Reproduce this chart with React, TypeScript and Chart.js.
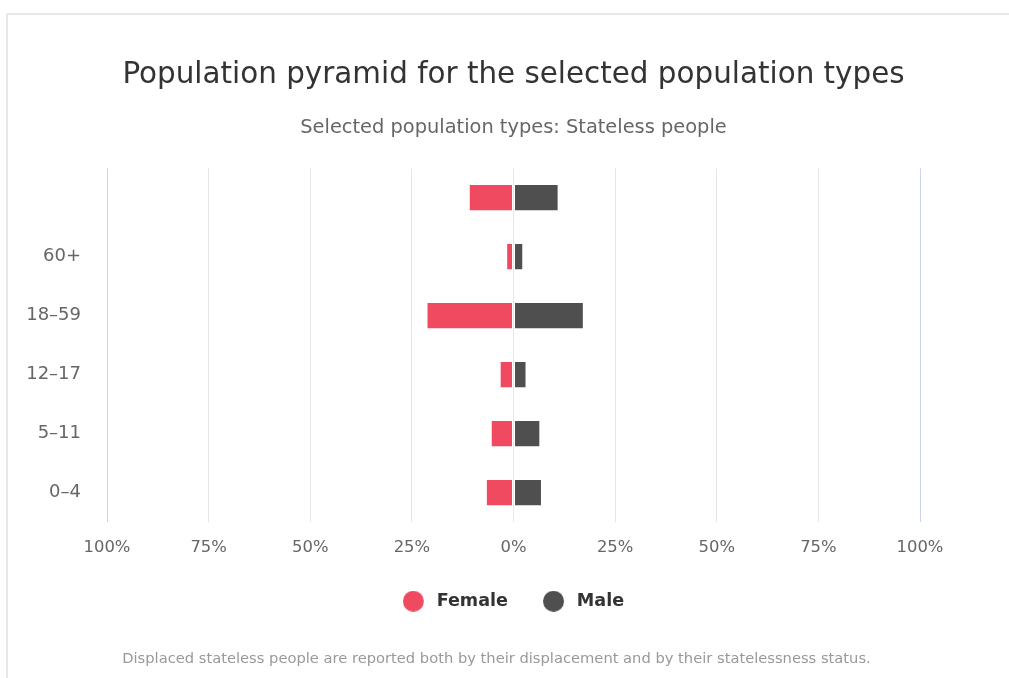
import React, { useEffect, useRef } from "react";
import { Chart, registerables } from "chart.js";

Chart.register(...registerables);

const categories = ["", "60+", "18–59", "12–17", "5–11", "0–4"];
const femaleValues = [-11.0, -1.8, -21.4, -3.4, -5.6, -6.8];
const maleValues = [11.1, 2.4, 17.3, 3.2, 6.6, 7.0];
const tickValues = [-100, -75, -50, -25, 0, 25, 50, 75, 100];

const FEMALE_COLOR = "#EF4A60";
const MALE_COLOR = "#4F4F4F";
const FONT = "'DejaVu Sans', sans-serif";
const CANVAS_W = 1027;
const CANVAS_H = 678;

function legendDot(color: string): HTMLCanvasElement {
  const c = document.createElement("canvas");
  c.width = 25;
  c.height = 21;
  const g = c.getContext("2d")!;
  g.fillStyle = color;
  g.beginPath();
  g.arc(10.5, 10.5, 10.5, 0, Math.PI * 2);
  g.fill();
  return c;
}

export default function App() {
  const ref = useRef<HTMLCanvasElement | null>(null);

  useEffect(() => {
    if (!ref.current) return;
    const chart = new Chart(ref.current, {
      type: "bar",
      data: {
        labels: categories,
        datasets: [
          {
            label: "Female",
            data: femaleValues,
            backgroundColor: FEMALE_COLOR,
            borderColor: "#ffffff",
            borderWidth: 1,
            borderSkipped: false,
            barPercentage: 0.464,
            categoryPercentage: 1,
            pointStyle: legendDot(FEMALE_COLOR),
          } as any,
          {
            label: "Male",
            data: maleValues,
            backgroundColor: MALE_COLOR,
            borderColor: "#ffffff",
            borderWidth: 1,
            borderSkipped: false,
            barPercentage: 0.464,
            categoryPercentage: 1,
            pointStyle: legendDot(MALE_COLOR),
          } as any,
        ],
      },
      options: {
        indexAxis: "y",
        animation: false,
        responsive: false,
        maintainAspectRatio: false,
        layout: { padding: { left: 0, right: 0, top: 0, bottom: 58 } },
        scales: {
          x: {
            stacked: true,
            min: -100,
            max: 100,
            afterBuildTicks: (scale: any) => {
              scale.ticks = tickValues.map((v) => ({ value: v }));
            },
            afterFit: (scale: any) => {
              scale.height = 35.25;
            },
            ticks: {
              callback: (v: any) => Math.abs(Number(v)) + "%",
              color: "#666666",
              font: { family: FONT, size: 16.4 },
              padding: 16,
              maxRotation: 0,
              autoSkip: false,
            },
            grid: {
              drawTicks: false,
              color: (ctx: any) =>
                ctx.tick && Math.abs(ctx.tick.value) === 100 ? "#ccd6eb" : "#e6e6e6",
              lineWidth: 1,
            },
            border: { display: false },
          },
          y: {
            stacked: true,
            position: "left",
            afterFit: (scale: any) => {
              scale.width = 107;
            },
            ticks: {
              color: "#666666",
              font: { family: FONT, size: 18 },
              padding: 26,
              autoSkip: false,
            },
            grid: { display: false, drawTicks: false },
            border: { display: false },
          },
          yRight: {
            type: "category",
            position: "right",
            display: true,
            afterFit: (scale: any) => {
              scale.width = 107;
            },
            ticks: { display: false },
            grid: { display: false, drawTicks: false },
            border: { display: false },
          },
        },
        plugins: {
          title: {
            display: true,
            text: "Population pyramid for the selected population types",
            color: "#333333",
            font: { family: FONT, size: 29.4, weight: "normal" },
            padding: { top: 58, bottom: 23.3 },
          },
          subtitle: {
            display: true,
            text: "Selected population types: Stateless people",
            color: "#666666",
            font: { family: FONT, size: 19.4, weight: "normal" },
            padding: { top: 0, bottom: 28.3 },
          },
          legend: {
            position: "bottom",
            labels: {
              usePointStyle: true,
              boxHeight: 15,
              pointStyleWidth: 25,
              padding: 35,
              color: "#333333",
              font: { family: FONT, size: 17.6, weight: "bold" },
            },
          },
          tooltip: { enabled: false },
        },
      },
    });
    return () => chart.destroy();
  }, []);

  return (
    <div
      style={{
        position: "fixed",
        left: 0,
        top: 0,
        width: 1009,
        height: 678,
        overflow: "hidden",
        background: "#ffffff",
      }}
    >
      <div
        style={{
          position: "absolute",
          left: 6,
          top: 13,
          width: 1100,
          height: 800,
          borderTop: "2px solid #e8e8e8",
          borderLeft: "2px solid #e8e8e8",
        }}
      />
      <canvas
        ref={ref}
        width={CANVAS_W}
        height={CANVAS_H}
        style={{ position: "absolute", left: 0, top: 0, width: CANVAS_W, height: CANVAS_H }}
      />
      <div
        style={{
          position: "absolute",
          left: 0,
          width: 993,
          top: 648,
          textAlign: "center",
          fontFamily: FONT,
          fontSize: 14.7,
          color: "#999999",
          lineHeight: "20px",
          whiteSpace: "nowrap",
        }}
      >
        Displaced stateless people are reported both by their displacement and by their statelessness status.
      </div>
    </div>
  );
}
